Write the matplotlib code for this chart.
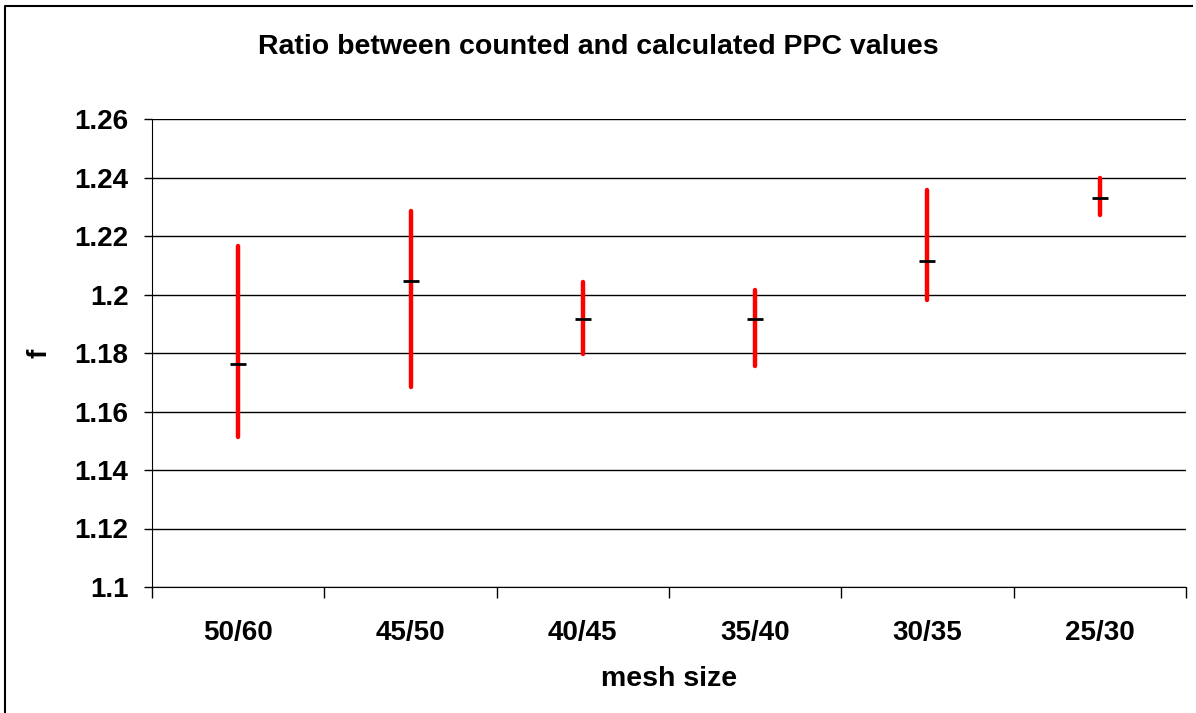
import numpy as np
import matplotlib
matplotlib.use('Agg')
from matplotlib import pyplot as plt
from matplotlib.lines import Line2D

mesh = ['50/60', '45/50', '40/45', '35/40', '30/35', '25/30']
f_mid = [1.1764, 1.2047, 1.1917, 1.1917, 1.2113, 1.2329]
f_low = [1.1513, 1.1684, 1.1798, 1.1755, 1.1980, 1.2272]
f_high = [1.2165, 1.2285, 1.2042, 1.2014, 1.2356, 1.2400]
yticks = [1.1, 1.12, 1.14, 1.16, 1.18, 1.2, 1.22, 1.24, 1.26]
ylabels = ['1.1', '1.12', '1.14', '1.16', '1.18', '1.2', '1.22', '1.24', '1.26']

plt.rcParams['font.family'] = ['Liberation Sans', 'DejaVu Sans']
plt.rcParams['font.weight'] = 'bold'

W, H = 1196, 713
fig = plt.figure(figsize=(W/100, H/100), dpi=100)
ax = fig.add_axes([152/W, 1-587/H, (1186-152)/W, (587-119)/H])

x = np.arange(len(mesh))
ax.vlines(x, f_low, f_high, color='red', lw=3.2, capstyle='round', zorder=3)
ax.plot(x, f_mid, ls='', marker='_', ms=12, mew=2, color='black', zorder=4)

ax.set_xlim(-0.5, len(mesh)-0.5)
ax.set_ylim(1.1, 1.26)
ax.set_yticks(yticks)
ax.set_yticklabels(ylabels, fontsize=20, fontweight='bold')
ax.set_xticks(x)
ax.set_xticklabels(mesh, fontsize=20, fontweight='bold')
ax.set_xticks(np.arange(len(mesh)+1)-0.5, minor=True)
ax.tick_params(axis='x', which='major', length=0, pad=24)
ax.tick_params(axis='x', which='minor', length=8, width=1, direction='out')
ax.tick_params(axis='y', length=6, width=1, pad=11)
ax.yaxis.grid(True, color='black', lw=1)
ax.set_axisbelow(True)
for s in ['top', 'right']:
    ax.spines[s].set_visible(False)

ax.set_xlabel('mesh size', fontsize=20.5, fontweight='bold', labelpad=14)
ax.set_ylabel('f', fontsize=20, fontweight='bold', labelpad=16)
fig.text(0.5, 1-47/H, 'Ratio between counted and calculated PPC values',
         ha='center', va='center', fontsize=20.5, fontweight='bold')

# outer frame (only top and left edges visible)
fig.lines.append(Line2D([5/W, 5/W, 1192/W], [0, 1-6/H, 1-6/H],
                        transform=fig.transFigure, color='black', lw=1.5))

fig.savefig('out.png', dpi=100)
